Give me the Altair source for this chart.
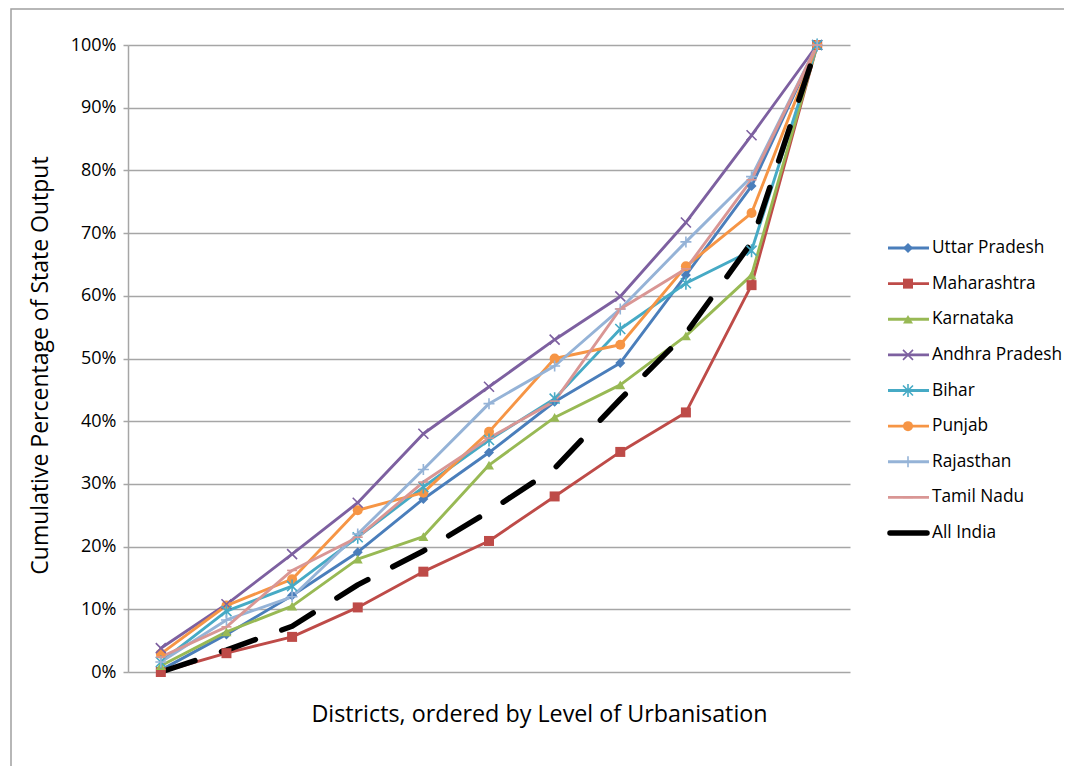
import altair as alt
import pandas as pd

# ---------------- data ----------------
deciles = list(range(1, 12))
series_names = ["Uttar Pradesh", "Maharashtra", "Karnataka", "Andhra Pradesh",
                "Bihar", "Punjab", "Rajasthan", "Tamil Nadu", "All India"]

uttar_pradesh = [0.3, 6.0, 12.2, 19.1, 27.6, 35.0, 43.1, 49.3, 63.3, 77.5, 100]
maharashtra = [0.0, 3.0, 5.6, 10.3, 16.0, 20.9, 28.0, 35.1, 41.4, 61.7, 100]
karnataka = [1.0, 6.4, 10.5, 18.0, 21.6, 33.0, 40.6, 45.8, 53.6, 63.3, 100]
andhra_pradesh = [3.8, 10.8, 18.8, 27.0, 38.0, 45.5, 53.0, 59.9, 71.7, 85.6, 100]
bihar = [1.6, 9.7, 13.7, 21.5, 29.5, 37.0, 43.6, 54.7, 62.0, 67.2, 100]
punjab = [2.9, 10.6, 14.8, 25.8, 28.6, 38.3, 50.0, 52.2, 64.7, 73.2, 100]
rajasthan = [1.6, 8.3, 12.0, 22.0, 32.3, 42.8, 48.8, 57.9, 68.6, 79.0, 100]
tamil_nadu = [2.4, 7.2, 16.2, 21.5, 30.3, 37.3, 43.2, 57.9, 64.3, 78.5, 100]
all_india = [0.0, 3.5, 7.3, 13.9, 19.3, 25.6, 32.5, 43.5, 54.0, 68.5, 100]

series_values = [uttar_pradesh, maharashtra, karnataka, andhra_pradesh, bihar,
                 punjab, rajasthan, tamil_nadu, all_india]

colors = ["#4A7EBB", "#BE4B48", "#98B954", "#7D60A0", "#46AAC5",
          "#F69545", "#95B3D7", "#D99694", "#000000"]
shapes = ["diamond", "square", "triangle-up",
          "M-1,-1L1,1M-1,1L1,-1",                 # x
          "M-1,-1L1,1M-1,1L1,-1M0,-1.3L0,1.3",   # asterisk
          "circle",
          "M-1.1,0L1.1,0M0,-1.1L0,1.1",           # plus
          "M-1,0L1,0",                            # dash
          "circle"]
state_series = series_names[:-1]
filled_series = ["Uttar Pradesh", "Maharashtra", "Karnataka", "Punjab"]
stroked_series = ["Andhra Pradesh", "Bihar", "Rajasthan", "Tamil Nadu"]

rows = []
for name, vals in zip(series_names, series_values):
    for d, v in zip(deciles, vals):
        rows.append({"series": name, "decile": d, "value": v / 100.0})
df = pd.DataFrame(rows)
legend_df = pd.DataFrame({"series": series_names})

FONT = "Open Sans"
GRID = "#A6A6A6"
MSIZE = 100

color_scale = alt.Scale(domain=series_names, range=colors)
shape_scale = alt.Scale(domain=series_names, range=shapes)
x_scale = alt.Scale(type="point", padding=0.5)
y_scale = alt.Scale(domain=[0, 1])

x_main = alt.X("decile:O", scale=x_scale,
               axis=alt.Axis(title="Districts, ordered by Level of Urbanisation",
                             labels=False, ticks=False, domain=False, grid=False,
                             titleFont=FONT, titleFontSize=23.3, titleFontWeight="normal",
                             titleColor="#000000", titlePadding=31, titleX=411))
x_plain = alt.X("decile:O", scale=x_scale)

y_axis = alt.Axis(format=".0%", values=[i / 10 for i in range(11)],
                  title="Cumulative Percentage of State Output",
                  titleFont=FONT, titleFontSize=23, titleFontWeight="normal",
                  titleColor="#000000", titlePadding=18, titleY=320,
                  labelFont=FONT, labelFontSize=18, labelColor="#000000",
                  labelPadding=7, tickSize=5, tickColor=GRID, tickWidth=1.5,
                  domainColor=GRID, domainWidth=1.5,
                  grid=True, gridColor=GRID, gridWidth=1.5)

base = alt.Chart(df)
color_enc = alt.Color("series:N", scale=color_scale, legend=None)
shape_enc = alt.Shape("series:N", scale=shape_scale, legend=None)

state_lines = base.transform_filter(
    alt.FieldOneOfPredicate(field="series", oneOf=state_series)
).mark_line(strokeCap="round", strokeJoin="round", strokeWidth=2.9).encode(
    x=x_main,
    y=alt.Y("value:Q", scale=y_scale, axis=y_axis),
    color=color_enc,
)

india_line = base.transform_filter(
    alt.datum.series == "All India"
).mark_line(strokeCap="round", strokeJoin="round", strokeWidth=5.5,
            strokeDash=[36, 28], color="#000000").encode(
    x=x_plain,
    y=alt.Y("value:Q", scale=y_scale, axis=None),
)

filled_pts = base.transform_filter(
    alt.FieldOneOfPredicate(field="series", oneOf=filled_series)
).mark_point(filled=True, opacity=1, size=MSIZE).encode(
    x=x_plain, y=alt.Y("value:Q", scale=y_scale, axis=None),
    color=color_enc, shape=shape_enc,
)

stroked_pts = base.transform_filter(
    alt.FieldOneOfPredicate(field="series", oneOf=stroked_series)
).mark_point(filled=False, opacity=1, size=MSIZE, strokeWidth=1.6).encode(
    x=x_plain, y=alt.Y("value:Q", scale=y_scale, axis=None),
    color=color_enc, shape=shape_enc,
)

# ---------------- legend (built from the series list) ----------------
leg_y = alt.Y("series:N", scale=alt.Scale(type="point", domain=series_names,
                                          range=[203, 488], padding=0), axis=None)
leg_base = alt.Chart(legend_df)

leg_lines = leg_base.transform_filter(
    alt.FieldOneOfPredicate(field="series", oneOf=state_series)
).mark_rule(strokeCap="butt", strokeWidth=2.9).encode(
    x=alt.value(760), x2=alt.value(801), y=leg_y, color=color_enc,
)
leg_india = leg_base.transform_filter(
    alt.datum.series == "All India"
).mark_rule(strokeCap="round", strokeWidth=5.5, color="#000000").encode(
    x=alt.value(762), x2=alt.value(799), y=leg_y,
)
leg_filled = leg_base.transform_filter(
    alt.FieldOneOfPredicate(field="series", oneOf=filled_series)
).mark_point(filled=True, opacity=1, size=MSIZE).encode(
    x=alt.value(780), y=leg_y, color=color_enc, shape=shape_enc,
)
leg_stroked = leg_base.transform_filter(
    alt.FieldOneOfPredicate(field="series", oneOf=stroked_series)
).mark_point(filled=False, opacity=1, size=MSIZE, strokeWidth=1.6).encode(
    x=alt.value(780), y=leg_y, color=color_enc, shape=shape_enc,
)
leg_text = leg_base.mark_text(align="left", baseline="middle", font=FONT,
                              fontSize=17.3, color="#000000").encode(
    x=alt.value(804), y=leg_y, text="series:N")

border = alt.Chart(pd.DataFrame({"a": [0]})).mark_rect(
    fill=None, stroke="#A0A0A0", strokeWidth=1.5
).encode(x=alt.value(-117), x2=alt.value(2000), y=alt.value(-36), y2=alt.value(900))

chart = alt.layer(
    border, state_lines, india_line, filled_pts, stroked_pts,
    leg_lines, leg_india, leg_filled, leg_stroked, leg_text
).resolve_scale(y="independent").properties(
    width=722, height=627,
    autosize=alt.AutoSizeParams(type="none"),
    padding={"left": 120, "top": 37, "right": 214, "bottom": 94},
    background="#FFFFFF",
).configure_view(stroke=None)

chart.save("out.html", embed_options={"renderer": "svg", "actions": False})
